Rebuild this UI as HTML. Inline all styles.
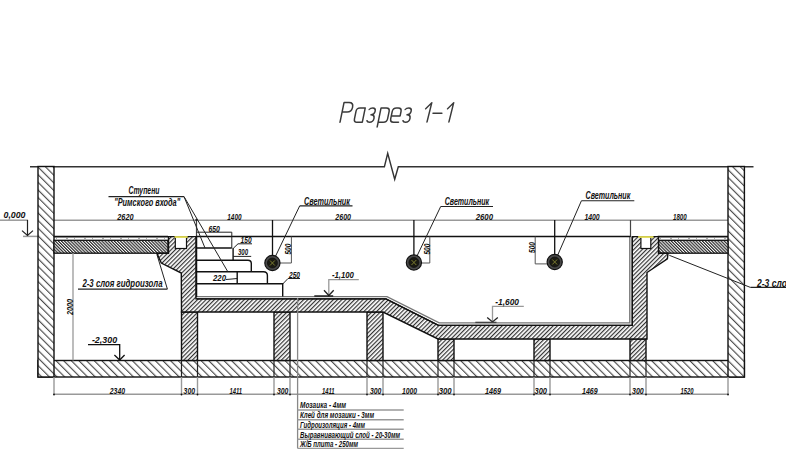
<!DOCTYPE html>
<html><head><meta charset="utf-8">
<style>
html,body{margin:0;padding:0;background:#fff;width:786px;height:453px;overflow:hidden}
svg{display:block}
text{font-family:"Liberation Sans",sans-serif;font-style:italic}
.d{font-size:8.8px;fill:#111;font-weight:bold}
.l{font-size:9px;fill:#111;font-weight:bold}
</style></head><body>
<svg width="786" height="453" viewBox="0 0 786 453">
<defs>
<pattern id="hw" patternUnits="userSpaceOnUse" width="5.4" height="5.4" patternTransform="rotate(-45)">
<rect width="5.4" height="5.4" fill="#fff"/><line x1="0.6" y1="0" x2="0.6" y2="5.4" stroke="#3a3a3a" stroke-width="1.05"/>
</pattern>
<pattern id="hs" patternUnits="userSpaceOnUse" width="3.0" height="3.0" patternTransform="rotate(45)">
<rect width="3.0" height="3.0" fill="#fff"/><line x1="0.6" y1="0" x2="0.6" y2="3.0" stroke="#333" stroke-width="1.2"/>
</pattern>
<pattern id="hd" patternUnits="userSpaceOnUse" width="2.2" height="2.2" patternTransform="rotate(-45)">
<rect width="2.2" height="2.2" fill="#fff"/><line x1="0.6" y1="0" x2="0.6" y2="2.2" stroke="#2a2a2a" stroke-width="1.2"/>
</pattern>
</defs>

<!-- title -->
<g fill="none" stroke="#3a3a3a" stroke-width="1.5" stroke-linecap="round" stroke-linejoin="round">
<path transform="translate(340,122.3) skewX(-11.5)" d="M0,0 L0,-19.9 L5,-19.9 Q9.5,-19.9 9.5,-15.1 Q9.5,-10.3 5,-10.3 L0,-10.3"/>
<path transform="translate(353.8,122.3) skewX(-11.5)" d="M8.5,-14.4 L8.5,0 M8.5,-14.4 L3.2,-14.4 Q0,-14.4 0,-11.2 L0,-3.2 Q0,0 3.2,0 L8.5,0"/>
<path transform="translate(366.6,122.3) skewX(-11.5)" d="M0,-12.8 Q0.8,-14.4 3.2,-14.4 Q6.3,-14.4 6.3,-11 Q6.3,-7.6 2.8,-7.6 Q6.6,-7.6 6.6,-3.8 Q6.6,0 3,0 Q0.8,0 0,-1.6"/>
<path transform="translate(378.1,122.3) skewX(-11.5)" d="M0,4.6 L0,-14.4 L5.3,-14.4 Q8.8,-14.4 8.8,-10.9 L8.8,-3.5 Q8.8,0 5.3,0 L0,0"/>
<path transform="translate(390,122.3) skewX(-11.5)" d="M0.2,-6.4 L8.8,-6.4 L8.8,-10.9 Q8.8,-14.4 5.3,-14.4 L3.5,-14.4 Q0,-14.4 0,-10.9 L0,-3.5 Q0,0 3.5,0 L8.5,0"/>
<path transform="translate(402.6,122.3) skewX(-11.5)" d="M0,-12.8 Q0.8,-14.4 3.2,-14.4 Q6.3,-14.4 6.3,-11 Q6.3,-7.6 2.8,-7.6 Q6.6,-7.6 6.6,-3.8 Q6.6,0 3,0 Q0.8,0 0,-1.6"/>
<path transform="translate(427,122) skewX(-14)" d="M0,0 L0,-19.2 L-4.6,-13.2"/>
<path d="M433,113.3 L441.9,113.3"/>
<path transform="translate(448.9,122) skewX(-14)" d="M0,0 L0,-19.2 L-4.6,-13.2"/>
</g>

<g fill="none" stroke="#111">
<!-- top line -->
<polyline points="30,166.7 384.4,166.7 387.7,153.4 394.7,179.3 398.3,166.7 753.5,166.7" stroke="#333" stroke-width="1.4" stroke-linejoin="miter"/>

<!-- dimension line top -->
<line x1="0" y1="220.2" x2="28" y2="220.2" stroke="#999" stroke-width="1.5"/>
<line x1="54" y1="220.2" x2="728" y2="220.2" stroke="#999" stroke-width="1.5"/>
<line x1="23" y1="236.4" x2="54" y2="236.4" stroke="#999" stroke-width="1.5"/>
<line x1="27.5" y1="220" x2="27.5" y2="235.5" stroke="#222" stroke-width="1.2"/>
<polyline points="22,230.6 27.5,235.5 33,230.6" stroke="#222" stroke-width="1.2"/>
<line x1="630.5" y1="220" x2="630.5" y2="237" stroke="#444" stroke-width="1.2"/>
<line x1="196.5" y1="220" x2="196.5" y2="237" stroke="#444" stroke-width="1.2"/>

<!-- bottom slab -->
<rect x="38" y="360.5" width="706.4" height="16.5" fill="url(#hw)" stroke="#111" stroke-width="1.4"/>
<!-- walls -->
<rect x="38" y="166.5" width="16" height="210.5" fill="url(#hw)" stroke="#111" stroke-width="1.4"/>
<rect x="728" y="166.5" width="16.4" height="210.5" fill="url(#hw)" stroke="#111" stroke-width="1.4"/>
<!-- columns -->
<rect x="181.5" y="312" width="16" height="48.5" fill="url(#hs)" stroke="#111" stroke-width="1.4"/>
<rect x="274" y="312" width="16" height="48.5" fill="url(#hs)" stroke="#111" stroke-width="1.4"/>
<rect x="367" y="312" width="16" height="48.5" fill="url(#hs)" stroke="#111" stroke-width="1.4"/>
<rect x="438" y="339" width="16" height="21.5" fill="url(#hs)" stroke="#111" stroke-width="1.4"/>
<rect x="534" y="339" width="16" height="21.5" fill="url(#hs)" stroke="#111" stroke-width="1.4"/>
<rect x="630" y="339" width="16" height="21.5" fill="url(#hs)" stroke="#111" stroke-width="1.4"/>
<!-- decks -->
<rect x="54" y="240.3" width="114" height="12.9" fill="url(#hd)" stroke="#111" stroke-width="1.3"/>
<rect x="658.5" y="240.3" width="69.5" height="12.9" fill="url(#hd)" stroke="#111" stroke-width="1.3"/>
<line x1="54" y1="236.6" x2="168" y2="236.6" stroke="#111" stroke-width="1.6"/>
<line x1="657.7" y1="236.6" x2="728" y2="236.6" stroke="#111" stroke-width="1.6"/>
<line x1="56" y1="238.4" x2="166" y2="238.4" stroke="#777" stroke-width="0.7" stroke-dasharray="1 9 2 6"/>
<line x1="660" y1="238.4" x2="726" y2="238.4" stroke="#777" stroke-width="0.7" stroke-dasharray="1 9 2 6"/>
<!-- pool shell -->
<path d="M168.5,236.6 L196,236.6 L196,298.9 L386,298.9 L438.5,325.4 L632.3,325.4 L632.3,236.6 L658.5,236.6 L658.5,253.2 L668,253.2 L667.4,258.8 L647,272.5 L647,339 L438,339 L383,312 L181.5,312 L181.3,273 L161.3,263.1 L156.8,253.2 L168.5,253.2 L168.5,236.6 Z" fill="url(#hs)" stroke="#111" stroke-width="1.4"/>
<!-- lining -->
<polyline points="196.5,296.6 387,296.6 439.2,322.9 629.8,322.9 629.8,237" stroke="#777" stroke-width="1.4"/>
<polyline points="196.5,298.9 386,298.9 438.5,325.4 632.3,325.4 632.3,237" stroke="#111" stroke-width="1.3"/>
<!-- gutters -->
<rect x="175.3" y="236.6" width="11.2" height="11.9" fill="#fff" stroke="#111" stroke-width="1.2"/>
<rect x="640.9" y="236.6" width="9.9" height="11.9" fill="#fff" stroke="#111" stroke-width="1.2"/>
<line x1="174.5" y1="237" x2="187.7" y2="237" stroke="#e6e055" stroke-width="1.8"/>
<line x1="638.2" y1="237" x2="653.5" y2="237" stroke="#e6e055" stroke-width="1.8"/>
<!-- pool top line across -->
<line x1="196" y1="236.6" x2="630.5" y2="236.6" stroke="#111" stroke-width="1.5"/>

<!-- stairs -->
<g stroke="#111" stroke-width="1.4">
<line x1="196.5" y1="248" x2="231.8" y2="248"/>
<path d="M196.5,260.2 L248,260.2 Q251.3,260.2 251.3,263.5 L251.3,271.7"/>
<path d="M196.5,271.7 L263.5,271.7 Q267.4,271.7 267.4,275.5 L267.4,283.8"/>
<path d="M196.5,283.8 L282.7,283.8 L282.7,296.4"/>
<line x1="233.1" y1="248" x2="233.1" y2="260.2"/>
<line x1="237.2" y1="271.7" x2="237.2" y2="284"/>
<line x1="196.5" y1="236.6" x2="196.5" y2="297" stroke-width="1.5"/>
</g>
<!-- stair dims -->
<g stroke="#222" stroke-width="1">
<line x1="196.5" y1="232.2" x2="231.8" y2="232.2"/>
<line x1="231.8" y1="232.2" x2="231.8" y2="248"/>
<polyline points="233.3,248.3 238,243.8 252,243.8"/>
<line x1="233.1" y1="256.4" x2="251.2" y2="256.4"/>
<polyline points="226,279.5 232,279 237,278.5"/>
<polyline points="282.7,284 288,278.5 300,278.5"/>
</g>
<!-- Stupeni leader -->
<line x1="108.5" y1="196.6" x2="184" y2="196.6" stroke="#222" stroke-width="1.1"/>
<line x1="184" y1="196.6" x2="205" y2="248" stroke="#222" stroke-width="1"/>
<line x1="184" y1="196.6" x2="227.7" y2="271.5" stroke="#222" stroke-width="1"/>
<circle cx="196.5" cy="220" r="1.2" fill="#222" stroke="none"/>

<!-- lights -->
<g>
<line x1="272.5" y1="220" x2="272.5" y2="262.5" stroke="#111" stroke-width="1.3"/>
<line x1="272.5" y1="262.5" x2="299.7" y2="205.9" stroke="#222" stroke-width="1"/>
<line x1="299.7" y1="205.9" x2="352.5" y2="205.9" stroke="#222" stroke-width="1.1"/>
<polyline points="272.5,263 291.4,263 291.4,236.6" stroke="#555" stroke-width="1"/>
<line x1="413.9" y1="220" x2="413.9" y2="262.5" stroke="#111" stroke-width="1.3"/>
<line x1="413.9" y1="262.5" x2="440.7" y2="206.5" stroke="#222" stroke-width="1"/>
<line x1="440.7" y1="206.5" x2="493" y2="206.5" stroke="#222" stroke-width="1.1"/>
<polyline points="413.9,263 429.8,263 429.8,236.6" stroke="#555" stroke-width="1"/>
<line x1="554.7" y1="220" x2="554.7" y2="262" stroke="#111" stroke-width="1.3"/>
<line x1="554.7" y1="262" x2="581.4" y2="200.8" stroke="#222" stroke-width="1"/>
<line x1="581.4" y1="200.8" x2="634.3" y2="200.8" stroke="#222" stroke-width="1.1"/>
<polyline points="554.7,263.9 535.2,263.9 535.2,236.6" stroke="#555" stroke-width="1"/>
</g>
<g id="lamp1">
<circle cx="272.4" cy="263" r="7.6" fill="#4a4a4a" stroke="#111" stroke-width="1.2"/>
<circle cx="272.4" cy="263" r="5" fill="#1a1a12" stroke="#111" stroke-width="0.8"/>
<path d="M270,260.5 L274.8,265.5 M274.8,260.5 L270,265.5" stroke="#7a7a30" stroke-width="1"/>
</g>
<g>
<circle cx="413.9" cy="262.5" r="7.6" fill="#4a4a4a" stroke="#111" stroke-width="1.2"/>
<circle cx="413.9" cy="262.5" r="5" fill="#1a1a12" stroke="#111" stroke-width="0.8"/>
<path d="M411.5,260 L416.3,265 M416.3,260 L411.5,265" stroke="#7a7a30" stroke-width="1"/>
</g>
<g>
<circle cx="554.7" cy="262" r="7.6" fill="#4a4a4a" stroke="#111" stroke-width="1.2"/>
<circle cx="554.7" cy="262" r="5" fill="#1a1a12" stroke="#111" stroke-width="0.8"/>
<path d="M552.3,259.5 L557.1,264.5 M557.1,259.5 L552.3,264.5" stroke="#7a7a30" stroke-width="1"/>
</g>

<!-- 2-3 sloya leaders -->
<line x1="78" y1="289.1" x2="167.4" y2="289.1" stroke="#222" stroke-width="1.1"/>
<line x1="167.4" y1="289.1" x2="157" y2="254.8" stroke="#222" stroke-width="1"/>
<line x1="669.3" y1="255.3" x2="750.4" y2="287.4" stroke="#222" stroke-width="1"/>
<line x1="750.4" y1="287.4" x2="786" y2="287.4" stroke="#222" stroke-width="1.1"/>

<!-- 2000 dim -->
<line x1="73" y1="253" x2="73" y2="360.5" stroke="#999" stroke-width="1.3"/>

<!-- level marks -->
<polyline points="88,344.6 119.7,344.6 119.7,360.3" stroke="#111" stroke-width="1.3"/>
<polyline points="114.4,355 119.7,360 124.6,355" stroke="#111" stroke-width="1.3"/>
<polyline points="358.8,279.7 328.8,279.7 328.8,295.5" stroke="#999" stroke-width="1.3"/>
<polyline points="324,290.2 328.8,295.5 333.7,290.2" stroke="#222" stroke-width="1.3"/>
<line x1="314.3" y1="296" x2="333.2" y2="296" stroke="#111" stroke-width="1.4"/>
<polyline points="523.8,306.3 492.5,306.3 492.5,322" stroke="#999" stroke-width="1.3"/>
<polyline points="487.2,317.4 492.5,322 497.8,317.4" stroke="#222" stroke-width="1.3"/>
<line x1="475.3" y1="322.4" x2="496.5" y2="322.4" stroke="#444" stroke-width="1.4"/>

<!-- bottom dims -->
<line x1="54" y1="394.2" x2="728" y2="394.2" stroke="#999" stroke-width="1.4"/>
<g stroke="#222" stroke-width="1.2">
<line x1="181.5" y1="360.5" x2="181.5" y2="377"/>
<line x1="197.5" y1="360.5" x2="197.5" y2="377"/>
<line x1="274" y1="360.5" x2="274" y2="377"/>
<line x1="290" y1="360.5" x2="290" y2="377"/>
<line x1="367" y1="360.5" x2="367" y2="377"/>
<line x1="383" y1="360.5" x2="383" y2="377"/>
<line x1="438" y1="360.5" x2="438" y2="377"/>
<line x1="454" y1="360.5" x2="454" y2="377"/>
<line x1="534" y1="360.5" x2="534" y2="377"/>
<line x1="550" y1="360.5" x2="550" y2="377"/>
<line x1="630" y1="360.5" x2="630" y2="377"/>
<line x1="646" y1="360.5" x2="646" y2="377"/>
</g>
<g stroke="#999" stroke-width="1.4">
<line x1="54" y1="377" x2="54" y2="395"/>
<line x1="181.5" y1="377" x2="181.5" y2="395"/>
<line x1="197.5" y1="377" x2="197.5" y2="395"/>
<line x1="274" y1="377" x2="274" y2="395"/>
<line x1="290" y1="377" x2="290" y2="395"/>
<line x1="367" y1="377" x2="367" y2="395"/>
<line x1="383" y1="377" x2="383" y2="395"/>
<line x1="438" y1="377" x2="438" y2="395"/>
<line x1="454" y1="377" x2="454" y2="395"/>
<line x1="534" y1="377" x2="534" y2="395"/>
<line x1="550" y1="377" x2="550" y2="395"/>
<line x1="630" y1="377" x2="630" y2="395"/>
<line x1="646" y1="377" x2="646" y2="395"/>
<line x1="728" y1="377" x2="728" y2="395"/>
</g>
<g fill="#111" stroke="none">
<circle cx="54" cy="394.5" r="0.9"/>
<circle cx="181.5" cy="394.5" r="0.9"/>
<circle cx="197.5" cy="394.5" r="0.9"/>
<circle cx="274" cy="394.5" r="0.9"/>
<circle cx="290" cy="394.5" r="0.9"/>
<circle cx="367" cy="394.5" r="0.9"/>
<circle cx="383" cy="394.5" r="0.9"/>
<circle cx="438" cy="394.5" r="0.9"/>
<circle cx="454" cy="394.5" r="0.9"/>
<circle cx="534" cy="394.5" r="0.9"/>
<circle cx="550" cy="394.5" r="0.9"/>
<circle cx="630" cy="394.5" r="0.9"/>
<circle cx="646" cy="394.5" r="0.9"/>
<circle cx="728" cy="394.5" r="0.9"/>
</g>
<!-- layers table -->
<line x1="297.6" y1="298" x2="297.6" y2="448.4" stroke="#888" stroke-width="1.3"/>
<g stroke="#999" stroke-width="1.4">
<line x1="297.6" y1="410" x2="403.7" y2="410"/>
<line x1="297.6" y1="419.7" x2="403.7" y2="419.7"/>
<line x1="297.6" y1="429.3" x2="403.7" y2="429.3"/>
<line x1="297.6" y1="439.3" x2="403.7" y2="439.3"/>
<line x1="297.6" y1="448.4" x2="403.7" y2="448.4"/>
</g>
</g>

<!-- texts -->
<g class="d">
<text x="117.3" y="219.5" textLength="16.3" lengthAdjust="spacingAndGlyphs">2620</text>
<text x="227.3" y="219.5" textLength="14.2" lengthAdjust="spacingAndGlyphs">1400</text>
<text x="335.3" y="219.5" textLength="15.7" lengthAdjust="spacingAndGlyphs">2600</text>
<text x="475.7" y="219.5" textLength="17.3" lengthAdjust="spacingAndGlyphs">2600</text>
<text x="584.4" y="219.5" textLength="15.3" lengthAdjust="spacingAndGlyphs">1400</text>
<text x="673" y="219.5" textLength="13.7" lengthAdjust="spacingAndGlyphs">1800</text>
<text x="3.5" y="217.5" textLength="22" lengthAdjust="spacingAndGlyphs">0,000</text>
<text x="91.9" y="342.5" textLength="25.2" lengthAdjust="spacingAndGlyphs">-2,300</text>
<text x="331.9" y="278" textLength="22" lengthAdjust="spacingAndGlyphs">-1,100</text>
<text x="495.2" y="304.5" textLength="23.8" lengthAdjust="spacingAndGlyphs">-1,600</text>
<text x="208.4" y="231.5" textLength="11.5" lengthAdjust="spacingAndGlyphs">650</text>
<text x="240.6" y="243" textLength="11" lengthAdjust="spacingAndGlyphs">150</text>
<text x="238" y="254.7" textLength="10.1" lengthAdjust="spacingAndGlyphs">300</text>
<text x="213" y="281" textLength="13" lengthAdjust="spacingAndGlyphs">220</text>
<text x="289" y="277.5" textLength="11" lengthAdjust="spacingAndGlyphs">250</text>
<text x="109.8" y="393.5" textLength="15.2" lengthAdjust="spacingAndGlyphs">2340</text>
<text x="183.6" y="393.5" textLength="11.4" lengthAdjust="spacingAndGlyphs">300</text>
<text x="229.4" y="393.5" textLength="12.6" lengthAdjust="spacingAndGlyphs">1411</text>
<text x="277" y="393.5" textLength="11.4" lengthAdjust="spacingAndGlyphs">300</text>
<text x="322" y="393.5" textLength="12.6" lengthAdjust="spacingAndGlyphs">1411</text>
<text x="370" y="393.5" textLength="11.4" lengthAdjust="spacingAndGlyphs">300</text>
<text x="402" y="393.5" textLength="15" lengthAdjust="spacingAndGlyphs">1000</text>
<text x="438.7" y="393.5" textLength="13" lengthAdjust="spacingAndGlyphs">300</text>
<text x="485" y="393.5" textLength="16" lengthAdjust="spacingAndGlyphs">1469</text>
<text x="534.5" y="393.5" textLength="12.5" lengthAdjust="spacingAndGlyphs">300</text>
<text x="582" y="393.5" textLength="15.6" lengthAdjust="spacingAndGlyphs">1469</text>
<text x="632" y="393.5" textLength="11.8" lengthAdjust="spacingAndGlyphs">300</text>
<text x="680.5" y="393.5" textLength="13" lengthAdjust="spacingAndGlyphs">1520</text>
<text transform="translate(73,315) rotate(-90)" x="0" y="0" textLength="16" lengthAdjust="spacingAndGlyphs">2000</text>
<text transform="translate(291,254.6) rotate(-90)" x="0" y="0" textLength="11" lengthAdjust="spacingAndGlyphs">500</text>
<text transform="translate(429.5,254.6) rotate(-90)" x="0" y="0" textLength="11" lengthAdjust="spacingAndGlyphs">500</text>
<text transform="translate(534.9,253) rotate(-90)" x="0" y="0" textLength="11" lengthAdjust="spacingAndGlyphs">500</text>
</g>
<g class="l">
<text x="128.5" y="194.4" textLength="31" lengthAdjust="spacingAndGlyphs" style="font-size:10.5px">Ступени</text>
<text x="114.2" y="206.3" textLength="66" lengthAdjust="spacingAndGlyphs" style="font-size:10px">"Римского входа"</text>
<text x="304" y="204.5" textLength="46" lengthAdjust="spacingAndGlyphs" style="font-size:10px">Светильник</text>
<text x="444.7" y="204.8" textLength="44.5" lengthAdjust="spacingAndGlyphs" style="font-size:10px">Светильник</text>
<text x="585.5" y="199.3" textLength="44.8" lengthAdjust="spacingAndGlyphs" style="font-size:10px">Светильник</text>
<text x="82.4" y="287" textLength="80.2" lengthAdjust="spacingAndGlyphs" style="font-size:10px">2-3 слоя гидроизола</text>
<text x="757" y="286.5" textLength="35" lengthAdjust="spacingAndGlyphs" style="font-size:10px">2-3 слоя</text>
</g>
<g class="d">
<text x="300" y="408" textLength="46" lengthAdjust="spacingAndGlyphs" style="font-size:9.5px">Мозаика - 4мм</text>
<text x="300" y="418" textLength="74" lengthAdjust="spacingAndGlyphs" style="font-size:9.5px">Клей для мозаики - 3мм</text>
<text x="300" y="428" textLength="65" lengthAdjust="spacingAndGlyphs" style="font-size:9.5px">Гидроизоляция - 4мм</text>
<text x="300" y="437.5" textLength="100" lengthAdjust="spacingAndGlyphs" style="font-size:9.5px">Выравнивающий слой - 20-30мм</text>
<text x="300" y="447" textLength="58" lengthAdjust="spacingAndGlyphs" style="font-size:9.5px">Ж/Б плита - 250мм</text>
</g>
</svg>
</body></html>
